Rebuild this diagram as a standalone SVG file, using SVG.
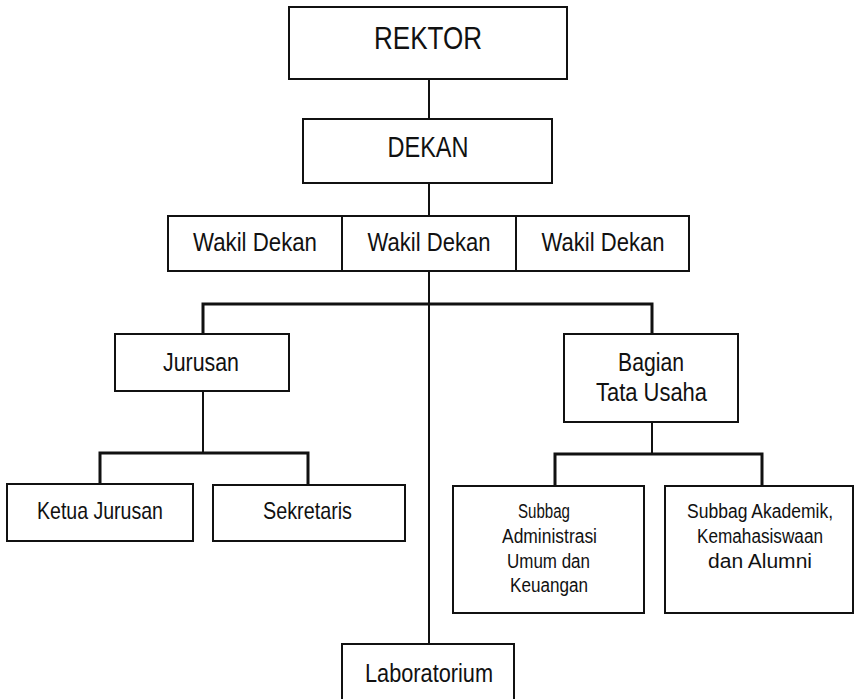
<svg xmlns="http://www.w3.org/2000/svg" width="857" height="699" viewBox="0 0 857 699">
<style>
.box{fill:#fff;stroke:#111;stroke-width:2}
.ln{fill:none;stroke:#111;stroke-width:2}
.bus{fill:none;stroke:#111;stroke-width:3}
text{font-family:"Liberation Sans",Arial,sans-serif;fill:#111;text-anchor:middle}
</style>
<rect width="857" height="699" fill="#fff"/>
<g id="connectors">
<line class="ln" x1="429" y1="79" x2="429" y2="119"/>
<line class="ln" x1="429" y1="183" x2="429" y2="216"/>
<line class="ln" x1="429" y1="271" x2="429" y2="644"/>
<polyline class="bus" points="203,334 203,304 652,304 652,334"/>
<line class="ln" x1="203" y1="391" x2="203" y2="453"/>
<polyline class="bus" points="100,484 100,453 308,453 308,484"/>
<line class="ln" x1="652" y1="422" x2="652" y2="454"/>
<polyline class="bus" points="555,486 555,454 762,454 762,486"/>
</g>
<g id="rektor"><rect class="box" x="289" y="7" width="278" height="72"/><text x="428" y="49" font-size="32" textLength="108" lengthAdjust="spacingAndGlyphs">REKTOR</text></g>
<g id="dekan"><rect class="box" x="303" y="119" width="249" height="64"/><text x="428" y="157" font-size="29" textLength="81" lengthAdjust="spacingAndGlyphs">DEKAN</text></g>
<g id="wakil1"><rect class="box" x="168" y="216" width="174" height="55"/><text x="255" y="251" font-size="25" textLength="124" lengthAdjust="spacingAndGlyphs">Wakil Dekan</text></g>
<g id="wakil2"><rect class="box" x="342" y="216" width="174" height="55"/><text x="429" y="251" font-size="25" textLength="123" lengthAdjust="spacingAndGlyphs">Wakil Dekan</text></g>
<g id="wakil3"><rect class="box" x="516" y="216" width="173" height="55"/><text x="603" y="251" font-size="25" textLength="123" lengthAdjust="spacingAndGlyphs">Wakil Dekan</text></g>
<g id="jurusan"><rect class="box" x="115" y="334" width="174" height="57"/><text x="201" y="371" font-size="25" textLength="76" lengthAdjust="spacingAndGlyphs">Jurusan</text></g>
<g id="bagian"><rect class="box" x="564" y="334" width="174" height="88"/><text x="651" y="371" font-size="25" textLength="66" lengthAdjust="spacingAndGlyphs">Bagian</text><text x="651.5" y="401" font-size="25" textLength="111" lengthAdjust="spacingAndGlyphs">Tata Usaha</text></g>
<g id="ketua"><rect class="box" x="7" y="484" width="186" height="57"/><text x="100" y="519" font-size="24" textLength="126" lengthAdjust="spacingAndGlyphs">Ketua Jurusan</text></g>
<g id="sekretaris"><rect class="box" x="213" y="485" width="192" height="56"/><text x="307.5" y="519" font-size="24" textLength="89" lengthAdjust="spacingAndGlyphs">Sekretaris</text></g>
<g id="subbag1"><rect class="box" x="453" y="486" width="191" height="127"/>
<text x="544" y="518" font-size="20" textLength="52" lengthAdjust="spacingAndGlyphs">Subbag</text>
<text x="549.5" y="543" font-size="20" textLength="95" lengthAdjust="spacingAndGlyphs">Administrasi</text>
<text x="548.5" y="568" font-size="20" textLength="83" lengthAdjust="spacingAndGlyphs">Umum dan</text>
<text x="549" y="592" font-size="20" textLength="78" lengthAdjust="spacingAndGlyphs">Keuangan</text></g>
<g id="subbag2"><rect class="box" x="665" y="486" width="188" height="127"/>
<text x="760" y="518" font-size="20" textLength="146" lengthAdjust="spacingAndGlyphs">Subbag Akademik,</text>
<text x="760" y="543" font-size="20" textLength="126" lengthAdjust="spacingAndGlyphs">Kemahasiswaan</text>
<text x="760" y="568" font-size="20" textLength="104" lengthAdjust="spacingAndGlyphs">dan Alumni</text></g>
<g id="laboratorium"><rect class="box" x="342" y="644" width="172" height="70"/><text x="429" y="682" font-size="26" textLength="128" lengthAdjust="spacingAndGlyphs">Laboratorium</text></g>
</svg>
